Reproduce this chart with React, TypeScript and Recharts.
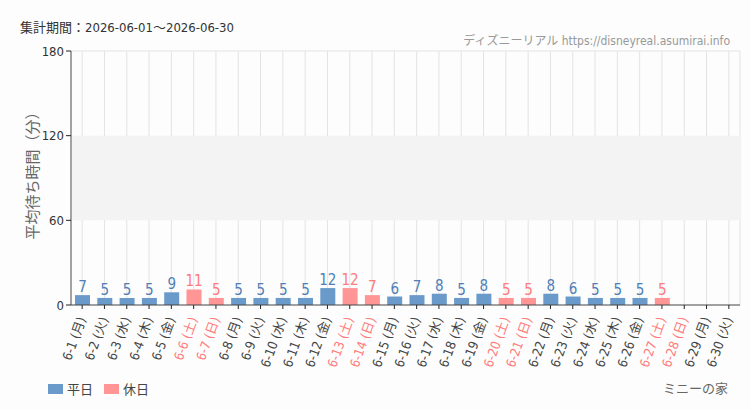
import { Bar, BarChart, CartesianGrid, LabelList, ReferenceArea, ReferenceLine, XAxis, YAxis } from "recharts";

const days = Array.from({ length: 30 }, (_, i) => i + 1);
const weekdays = ["月", "火", "水", "木", "金", "土", "日"];
const holidayDays = [6, 7, 13, 14, 20, 21, 27, 28];
const waitTimes: (number | null)[] = [
  7, 5, 5, 5, 9, 11, 5, 5, 5, 5, 5, 12, 12, 7, 6, 7, 8, 5, 8, 5, 5, 8, 6, 5, 5, 5, 5, null, null, null,
];
const yTicks = [0, 60, 120, 180];

const BLUE = "#6a9ac9";
const BLUE_TEXT = "#4f7fb6";
const PINK = "#ff9595";
const PINK_TEXT = "#ff7b7b";
const FONT = '"DejaVu Sans Condensed", "Noto Sans CJK JP", sans-serif';

const data = days.map((d, i) => {
  const holiday = holidayDays.includes(d);
  return {
    name: `6-${d} (${weekdays[i % 7]})`,
    holiday,
    weekday: holiday ? null : waitTimes[i],
    rest: holiday ? waitTimes[i] : null,
  };
});

function XTick(props: any) {
  const { x, y, payload, index } = props;
  const holiday = data[index]?.holiday;
  return (
    <text
      x={x + 4}
      y={y + 8}
      transform={`rotate(-70 ${x + 4} ${y + 8})`}
      textAnchor="end"
      fill={holiday ? PINK_TEXT : "#444"}
      fontSize={13}
      fontFamily={FONT}
    >
      {payload.value}
    </text>
  );
}

export default function App() {
  return (
    <div style={{ position: "absolute", left: 0, top: 0, width: 750, height: 410, background: "#fcfdfc", fontFamily: FONT }}>
      <div style={{ position: "absolute", left: 20, top: 17, fontSize: 13, color: "#333" }}>
        集計期間：2026-06-01～2026-06-30
      </div>
      <div style={{ position: "absolute", right: 20, top: 31, fontSize: 12, color: "#999" }}>
        ディズニーリアル https://disneyreal.asumirai.info
      </div>
      <div
        style={{
          position: "absolute",
          left: 33 - 100,
          top: 172 - 12,
          width: 200,
          height: 24,
          lineHeight: "24px",
          textAlign: "center",
          transform: "rotate(-90deg)",
          transformOrigin: "center",
          whiteSpace: "nowrap",
          fontSize: 15,
          color: "#666",
        }}
      >
        平均待ち時間（分）
      </div>
      <BarChart
        width={750}
        height={410}
        data={data}
        margin={{ top: 51, right: 10, bottom: 40, left: 31 }}
        barSize={15}
      >
        <ReferenceArea y1={60} y2={120} fill="#f3f3f3" fillOpacity={1} strokeOpacity={0} />
        <CartesianGrid vertical horizontal={false} stroke="#e3e3e3" />
        <ReferenceLine y={180} stroke="#e3e3e3" />
        <XAxis
          dataKey="name"
          interval={0}
          height={65}
          tick={<XTick />}
          axisLine={{ stroke: "#444" }}
          tickLine={{ stroke: "#222" }}
          tickSize={4}
        />
        <YAxis
          domain={[0, 180]}
          ticks={yTicks}
          width={40}
          axisLine={{ stroke: "#555" }}
          tickLine={{ stroke: "#222" }}
          tickSize={5}
          tick={{ fill: "#333", fontSize: 13, fontFamily: FONT }}
        />
        <Bar dataKey="weekday" stackId="a" fill={BLUE} isAnimationActive={false}>
          <LabelList dataKey="weekday" position="top" fill={BLUE_TEXT} fontSize={15} fontFamily={FONT} offset={3} />
        </Bar>
        <Bar dataKey="rest" stackId="a" fill={PINK} isAnimationActive={false}>
          <LabelList dataKey="rest" position="top" fill={PINK_TEXT} fontSize={15} fontFamily={FONT} offset={3} />
        </Bar>
      </BarChart>
      <div style={{ position: "absolute", left: 48, top: 379, display: "flex", alignItems: "center", fontSize: 13, color: "#444" }}>
        <span style={{ width: 15, height: 10, background: BLUE, display: "inline-block", marginRight: 4 }} />
        <span>平日</span>
        <span style={{ width: 15, height: 10, background: PINK, display: "inline-block", marginLeft: 11, marginRight: 4 }} />
        <span>休日</span>
      </div>
      <div style={{ position: "absolute", right: 22, top: 378, fontSize: 13, color: "#666" }}>ミニーの家</div>
    </div>
  );
}
